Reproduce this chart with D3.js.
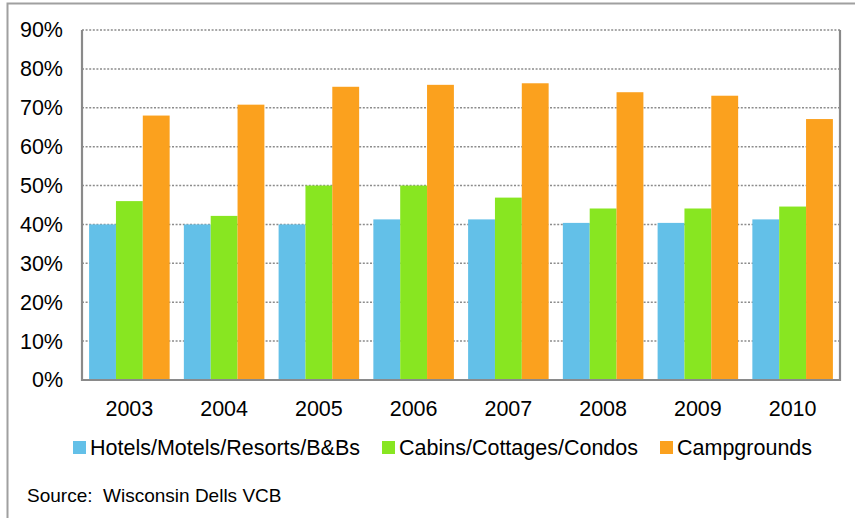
<!DOCTYPE html>
<html>
<head>
<meta charset="utf-8">
<script src="https://cdn.jsdelivr.net/npm/d3@7"></script>
<style>
  html, body { margin: 0; padding: 0; background: #fff; }
  svg { display: block; font-family: "Liberation Sans", Arial, sans-serif; }
</style>
</head>
<body>
<svg id="chart" width="855" height="518"></svg>
<script>
// Occupancy rates by lodging type, Wisconsin Dells
const years = ["2003", "2004", "2005", "2006", "2007", "2008", "2009", "2010"];
const seriesNames = ["Hotels/Motels/Resorts/B&Bs", "Cabins/Cottages/Condos", "Campgrounds"];
const hotels = [40.0, 40.0, 40.0, 41.3, 41.3, 40.4, 40.4, 41.3];
const cabins = [46.0, 42.2, 50.0, 50.0, 46.9, 44.1, 44.1, 44.6];
const campgrounds = [68.0, 70.8, 75.4, 75.9, 76.3, 74.0, 73.1, 67.1];
const yTicks = [0, 10, 20, 30, 40, 50, 60, 70, 80, 90];
const colors = ["#63C0E8", "#88E621", "#FBA11E"];
const sourceNote = "Source:  Wisconsin Dells VCB";

const seriesValues = [hotels, cabins, campgrounds];

const svg = d3.select("#chart");
const plot = { left: 82, right: 840, top: 30, bottom: 380 };
const labelFont = 21.5;

// Outer frame of the chart object
svg.append("path")
  .attr("d", "M7.5,520 V3.5 H860")
  .attr("fill", "none")
  .attr("stroke", "#a0a0a0")
  .attr("stroke-width", 2);

const x0 = d3.scaleBand().domain(years).range([plot.left, plot.right]).paddingInner(0.15).paddingOuter(0.075);
const x1 = d3.scaleBand().domain(d3.range(seriesNames.length)).range([0, x0.bandwidth()]);
const y = d3.scaleLinear().domain([0, 90]).range([plot.bottom, plot.top]);

// Dotted horizontal gridlines
svg.append("g")
  .selectAll("line")
  .data(yTicks.filter(t => t > 0))
  .join("line")
  .attr("x1", plot.left)
  .attr("x2", plot.right)
  .attr("y1", d => y(d))
  .attr("y2", d => y(d))
  .attr("stroke", "#8c8c8c")
  .attr("stroke-width", 1.5)
  .attr("stroke-dasharray", "2,1.6");

// Bars
const groups = svg.append("g")
  .selectAll("g")
  .data(years)
  .join("g")
  .attr("transform", d => `translate(${x0(d)},0)`);

groups.selectAll("rect")
  .data((d, i) => seriesValues.map((vals, s) => ({ s, v: vals[i] })))
  .join("rect")
  .attr("x", d => x1(d.s))
  .attr("width", x1.bandwidth())
  .attr("y", d => y(d.v))
  .attr("height", d => y(0) - y(d.v))
  .attr("fill", d => colors[d.s]);

// Plot frame: left, right and bottom edges
svg.append("path")
  .attr("d", `M${plot.left},${plot.top} V${plot.bottom} H${plot.right} V${plot.top}`)
  .attr("fill", "none")
  .attr("stroke", "#8a8a8a")
  .attr("stroke-width", 2.2);

// Y axis labels
const yAxis = d3.axisLeft(y).tickValues(yTicks).tickFormat(d => d + "%").tickSize(0).tickPadding(19);
const yg = svg.append("g").attr("transform", `translate(${plot.left},0)`).call(yAxis);
yg.select(".domain").remove();
yg.selectAll("text").attr("font-size", labelFont).attr("fill", "#000").attr("font-family", "Liberation Sans, Arial, sans-serif");

// X axis labels
const xAxis = d3.axisBottom(x0).tickSize(0).tickPadding(20.5);
const xg = svg.append("g").attr("transform", `translate(0,${plot.bottom})`).call(xAxis);
xg.select(".domain").remove();
xg.selectAll("text").attr("font-size", labelFont).attr("fill", "#000").attr("font-family", "Liberation Sans, Arial, sans-serif");

// Legend
const legendX = [73, 382, 660];
const legend = svg.append("g").selectAll("g")
  .data(seriesNames)
  .join("g")
  .attr("transform", (d, i) => `translate(${legendX[i]},441)`);
legend.append("rect").attr("width", 13).attr("height", 13).attr("fill", (d, i) => colors[i]);
legend.append("text")
  .attr("x", 17)
  .attr("y", 14)
  .attr("font-size", labelFont)
  .attr("fill", "#000")
  .text(d => d);

// Source note
svg.append("text")
  .attr("x", 27)
  .attr("y", 502)
  .attr("font-size", 19)
  .attr("fill", "#000")
  .attr("xml:space", "preserve")
  .style("white-space", "pre")
  .text(sourceNote);
</script>
</body>
</html>
